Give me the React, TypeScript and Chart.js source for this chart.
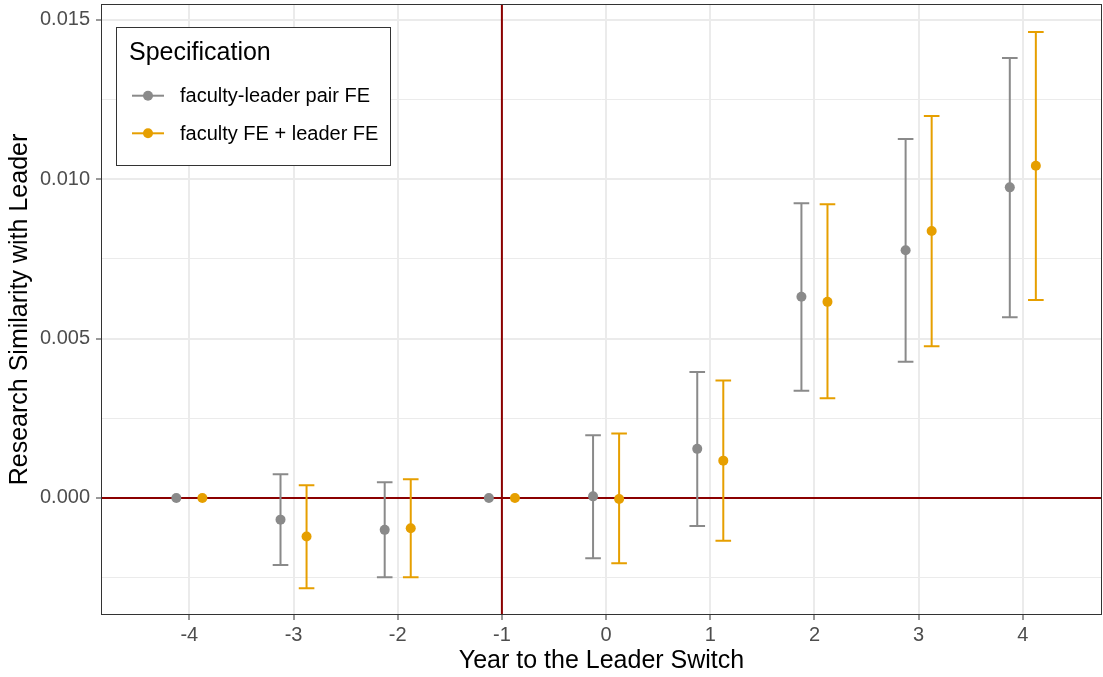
import React, { useEffect, useRef } from 'react';
import { Chart, registerables } from 'chart.js';

Chart.register(...registerables);

// ---------- data ----------
const years = [-4, -3, -2, -1, 0, 1, 2, 3, 4];
const xTickLabels = ['-4', '-3', '-2', '-1', '0', '1', '2', '3', '4'];

const pairEstimate = [0, -0.00068, -0.00100, 0, 0.00005, 0.00154, 0.00631, 0.00777, 0.00974];
const pairLower = [null, -0.00210, -0.00249, null, -0.00189, -0.00088, 0.00336, 0.00427, 0.00567];
const pairUpper = [null, 0.00074, 0.00049, null, 0.00197, 0.00395, 0.00924, 0.01126, 0.01380];

const sepEstimate = [0, -0.00121, -0.00095, 0, -0.00003, 0.00117, 0.00615, 0.00837, 0.01042];
const sepLower = [null, -0.00283, -0.00249, null, -0.00205, -0.00134, 0.00313, 0.00476, 0.00621];
const sepUpper = [null, 0.00040, 0.00059, null, 0.00202, 0.00368, 0.00921, 0.01198, 0.01461];

const yTicks = [-0.0025, 0, 0.0025, 0.005, 0.0075, 0.01, 0.0125, 0.015];
const yTickLabels = ['', '0.000', '', '0.005', '', '0.010', '', '0.015'];

const seriesNames = ['faculty-leader pair FE', 'faculty FE + leader FE'];
const legendTitle = 'Specification';
const xTitle = 'Year to the Leader Switch';
const yTitle = 'Research Similarity with Leader';

// ---------- style ----------
const GRAY = '#8A8A8A';
const ORANGE = '#E69F00';
const RED = '#8B0000';
const FONT = "'Liberation Sans', Arial, Helvetica, sans-serif";
const DODGE = 0.125;
const CAP_HALF = 0.075;

const series = [
  { name: seriesNames[0], color: GRAY, offset: -DODGE, est: pairEstimate, lo: pairLower, hi: pairUpper },
  { name: seriesNames[1], color: ORANGE, offset: DODGE, est: sepEstimate, lo: sepLower, hi: sepUpper },
];

const zeroPad = (scale: any) => {
  scale.paddingTop = 0;
  scale.paddingBottom = 0;
  scale.paddingLeft = 0;
  scale.paddingRight = 0;
};

const errorBarPlugin = {
  id: 'errorBars',
  beforeDatasetsDraw(chart: any) {
    const { ctx, chartArea, scales } = chart;
    const xs = scales.x;
    const ys = scales.y;
    ctx.save();
    ctx.beginPath();
    ctx.rect(chartArea.left, chartArea.top, chartArea.right - chartArea.left, chartArea.bottom - chartArea.top);
    ctx.clip();
    ctx.strokeStyle = RED;
    ctx.lineWidth = 2;
    const y0 = ys.getPixelForValue(0);
    ctx.beginPath();
    ctx.moveTo(chartArea.left, y0);
    ctx.lineTo(chartArea.right, y0);
    ctx.stroke();
    const xv = xs.getPixelForValue(-1);
    ctx.beginPath();
    ctx.moveTo(xv, chartArea.top);
    ctx.lineTo(xv, chartArea.bottom);
    ctx.stroke();
    chart.data.datasets.forEach((ds: any) => {
      ctx.strokeStyle = ds.backgroundColor;
      ctx.lineWidth = 2;
      ds.data.forEach((p: any) => {
        if (p.lo == null || p.hi == null) return;
        const x = xs.getPixelForValue(p.x);
        const xl = xs.getPixelForValue(p.x - CAP_HALF);
        const xr = xs.getPixelForValue(p.x + CAP_HALF);
        const yl = ys.getPixelForValue(p.lo);
        const yh = ys.getPixelForValue(p.hi);
        ctx.beginPath();
        ctx.moveTo(x, yl);
        ctx.lineTo(x, yh);
        ctx.moveTo(xl, yl);
        ctx.lineTo(xr, yl);
        ctx.moveTo(xl, yh);
        ctx.lineTo(xr, yh);
        ctx.stroke();
      });
    });
    ctx.restore();
  },
  afterDraw(chart: any) {
    const { ctx, chartArea } = chart;
    ctx.save();
    ctx.strokeStyle = '#333333';
    ctx.lineWidth = 1;
    ctx.strokeRect(chartArea.left + 0.5, chartArea.top + 0.5, chartArea.right - chartArea.left - 1, chartArea.bottom - chartArea.top - 1);
    const lx = 116, ly = 27, lw = 274, lh = 138;
    ctx.fillStyle = '#ffffff';
    ctx.fillRect(lx, ly, lw, lh);
    ctx.strokeStyle = '#333333';
    ctx.strokeRect(lx + 0.5, ly + 0.5, lw, lh);
    ctx.fillStyle = '#000000';
    ctx.font = `25px ${FONT}`;
    ctx.textBaseline = 'alphabetic';
    ctx.textAlign = 'left';
    ctx.fillText(legendTitle, 129, 60);
    const rows = [95.7, 133.3];
    series.forEach((s, i) => {
      const cy = rows[i];
      ctx.strokeStyle = s.color;
      ctx.lineWidth = 2;
      ctx.beginPath();
      ctx.moveTo(132, cy);
      ctx.lineTo(164, cy);
      ctx.stroke();
      ctx.fillStyle = s.color;
      ctx.beginPath();
      ctx.arc(148, cy, 5, 0, Math.PI * 2);
      ctx.fill();
      ctx.fillStyle = '#000000';
      ctx.font = `20px ${FONT}`;
      ctx.fillText(s.name, 180, cy + 6.3);
    });
    ctx.restore();
  },
};

export default function App() {
  const ref = useRef<HTMLCanvasElement>(null);

  useEffect(() => {
    if (!ref.current) return;
    const datasets = series.map((s) => ({
      label: s.name,
      data: years.map((yr, i) => ({ x: yr + s.offset, y: s.est[i], lo: s.lo[i], hi: s.hi[i] })),
      backgroundColor: s.color,
      borderColor: s.color,
      pointRadius: 5,
      pointBorderWidth: 0,
      showLine: false,
    }));
    const chart = new Chart(ref.current, {
      type: 'scatter',
      data: { datasets },
      plugins: [errorBarPlugin],
      options: {
        animation: false,
        responsive: false,
        devicePixelRatio: 1,
        layout: { autoPadding: false, padding: { top: 4, right: 1, left: 0, bottom: 0 } },
        plugins: { legend: { display: false }, tooltip: { enabled: false } },
        scales: {
          x: {
            type: 'linear',
            min: -4.848,
            max: 4.76,
            afterBuildTicks: (scale: any) => {
              scale.ticks = years.map((v) => ({ value: v }));
            },
            afterFit: (scale: any) => {
              scale.height = 62;
              zeroPad(scale);
            },
            ticks: {
              callback: (_v: any, i: number) => xTickLabels[i],
              color: '#4D4D4D',
              font: { family: FONT, size: 20 },
              padding: 3,
              maxRotation: 0,
              autoSkip: false,
            },
            grid: {
              color: '#EBEBEB',
              lineWidth: 2,
              tickLength: 5,
              tickColor: '#333333',
              tickWidth: 1,
            },
            border: { display: false },
            title: {
              display: true,
              text: xTitle,
              color: '#000000',
              font: { family: FONT, size: 25 },
              padding: { top: 0, bottom: 1 },
            },
          },
          y: {
            type: 'linear',
            min: -0.00367,
            max: 0.01549,
            afterBuildTicks: (scale: any) => {
              scale.ticks = yTicks.map((v) => ({ value: v }));
            },
            afterFit: (scale: any) => {
              scale.width = 101;
              zeroPad(scale);
            },
            ticks: {
              callback: (_v: any, i: number) => yTickLabels[i],
              color: '#4D4D4D',
              font: { family: FONT, size: 20 },
              padding: 6,
              autoSkip: false,
            },
            grid: {
              color: '#EBEBEB',
              lineWidth: (c: any) => (yTickLabels[c.index] ? 2 : 1),
              tickLength: 5,
              tickColor: (c: any) => (yTickLabels[c.index] ? '#333333' : 'rgba(0,0,0,0)'),
              tickWidth: 1,
            },
            border: { display: false },
            title: {
              display: true,
              text: yTitle,
              color: '#000000',
              font: { family: FONT, size: 25 },
              padding: { top: 5, bottom: 0 },
            },
          },
        },
      } as any,
    });
    return () => chart.destroy();
  }, []);

  return (
    <div style={{ position: 'absolute', left: 0, top: 0, width: 1103, height: 677, background: '#ffffff' }}>
      <canvas ref={ref} width={1103} height={677} />
    </div>
  );
}
